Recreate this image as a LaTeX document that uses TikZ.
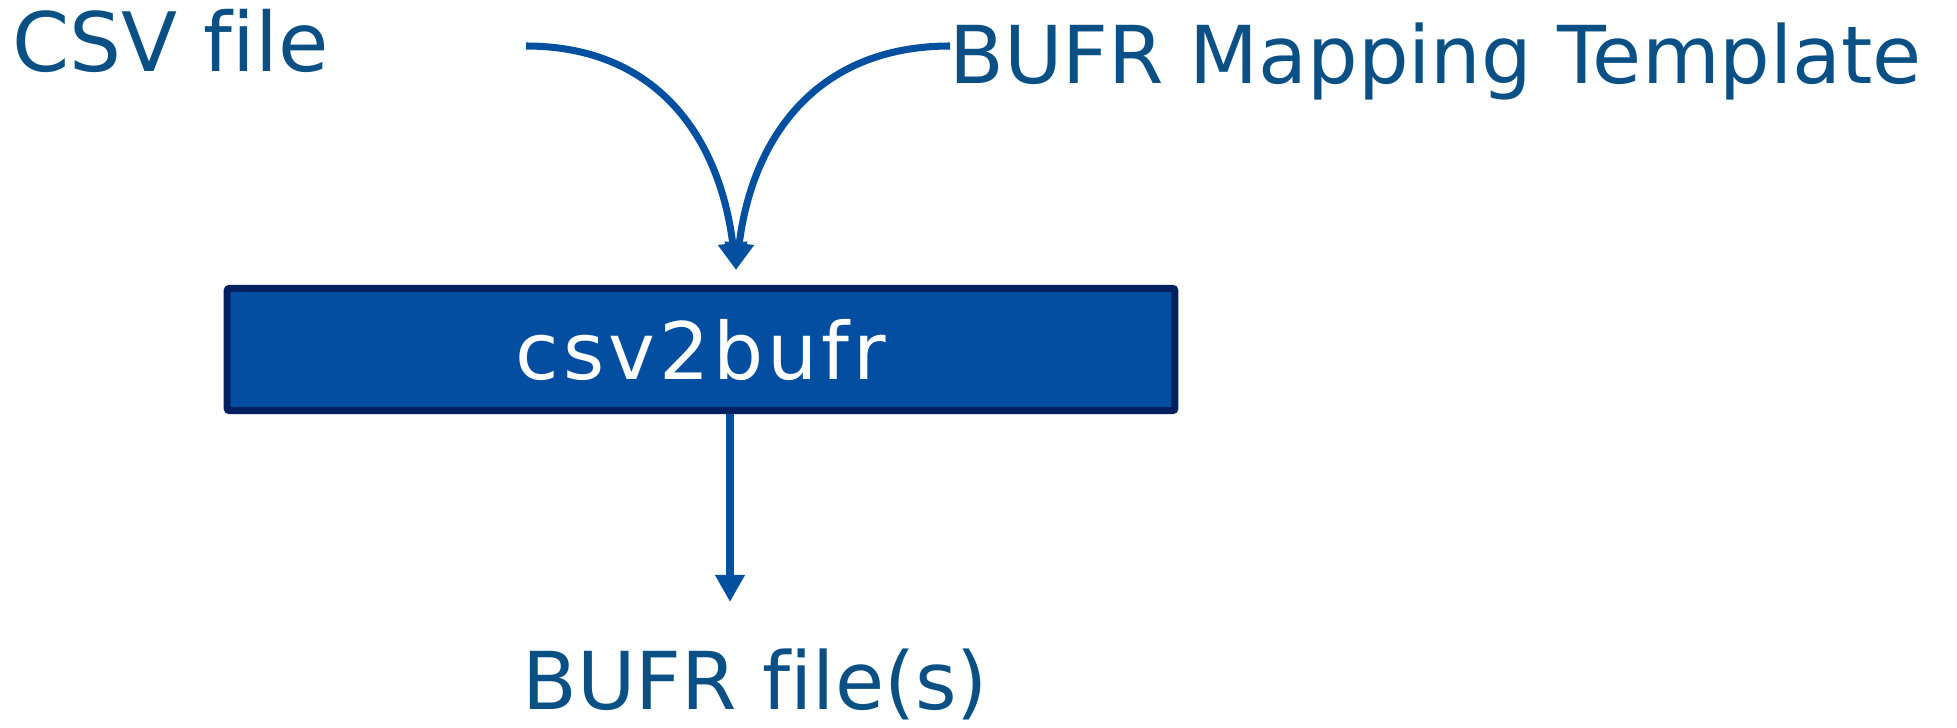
\documentclass[tikz,border=0pt]{standalone}
\usepackage{fontspec}
\setmainfont{DejaVu Sans}[Ligatures=NoCommon]
\usetikzlibrary{
    arrows.meta,
    positioning
}
\definecolor{textblue}{RGB}{10,80,133}
\definecolor{lineblue}{RGB}{4,80,160}
\definecolor{boxfill}{RGB}{3,78,160}
\definecolor{boxline}{RGB}{0,32,96}

\begin{document}
\begin{tikzpicture}[
    x=0.01cm, y=-0.01cm,
    label/.style={inner sep=0pt, text=textblue, font=\fontsize{22.7}{28}\selectfont},
    block/.style={rectangle, draw=boxline, fill=boxfill, line width=2pt, rounded corners=0.6pt,
        inner sep=0pt, minimum width=9.47cm, minimum height=1.22cm,
        text=white, font=\fontsize{22.5}{28}\selectfont\addfontfeature{LetterSpace=5}},
    flow/.style={draw=lineblue, line width=2pt, -{Triangle[length=0.27cm, width=0.28cm]}}
]
\useasboundingbox (0,0) rectangle (1957,727);

% Inputs
\node[label, anchor=base west, font=\fontsize{23.3}{28}\selectfont] (csv) at (12,71) {CSV file};
\node[label, anchor=base west] (tpl) at (949,83) {BUFR Mapping Template};

% Converter
\node[block] (conv) at (701,349.5) {csv2bufr};

% Output
\node[label, anchor=base west] (out) at (522,709) {BUFR file(s)};

% Connectors
\coordinate (csvend) at (526,46);
\coordinate (tplend) at (950,46);
\coordinate (intip) at (736,270);
\coordinate (outtip) at (730,602);

\draw[flow] (csvend) to[out=0, in=97, looseness=1.1] (intip);
\draw[flow] (tplend) to[out=180, in=83, looseness=1.1] (intip);
\draw[flow, line width=2.3pt] (conv.south -| outtip) -- (outtip);
\end{tikzpicture}
\end{document}
